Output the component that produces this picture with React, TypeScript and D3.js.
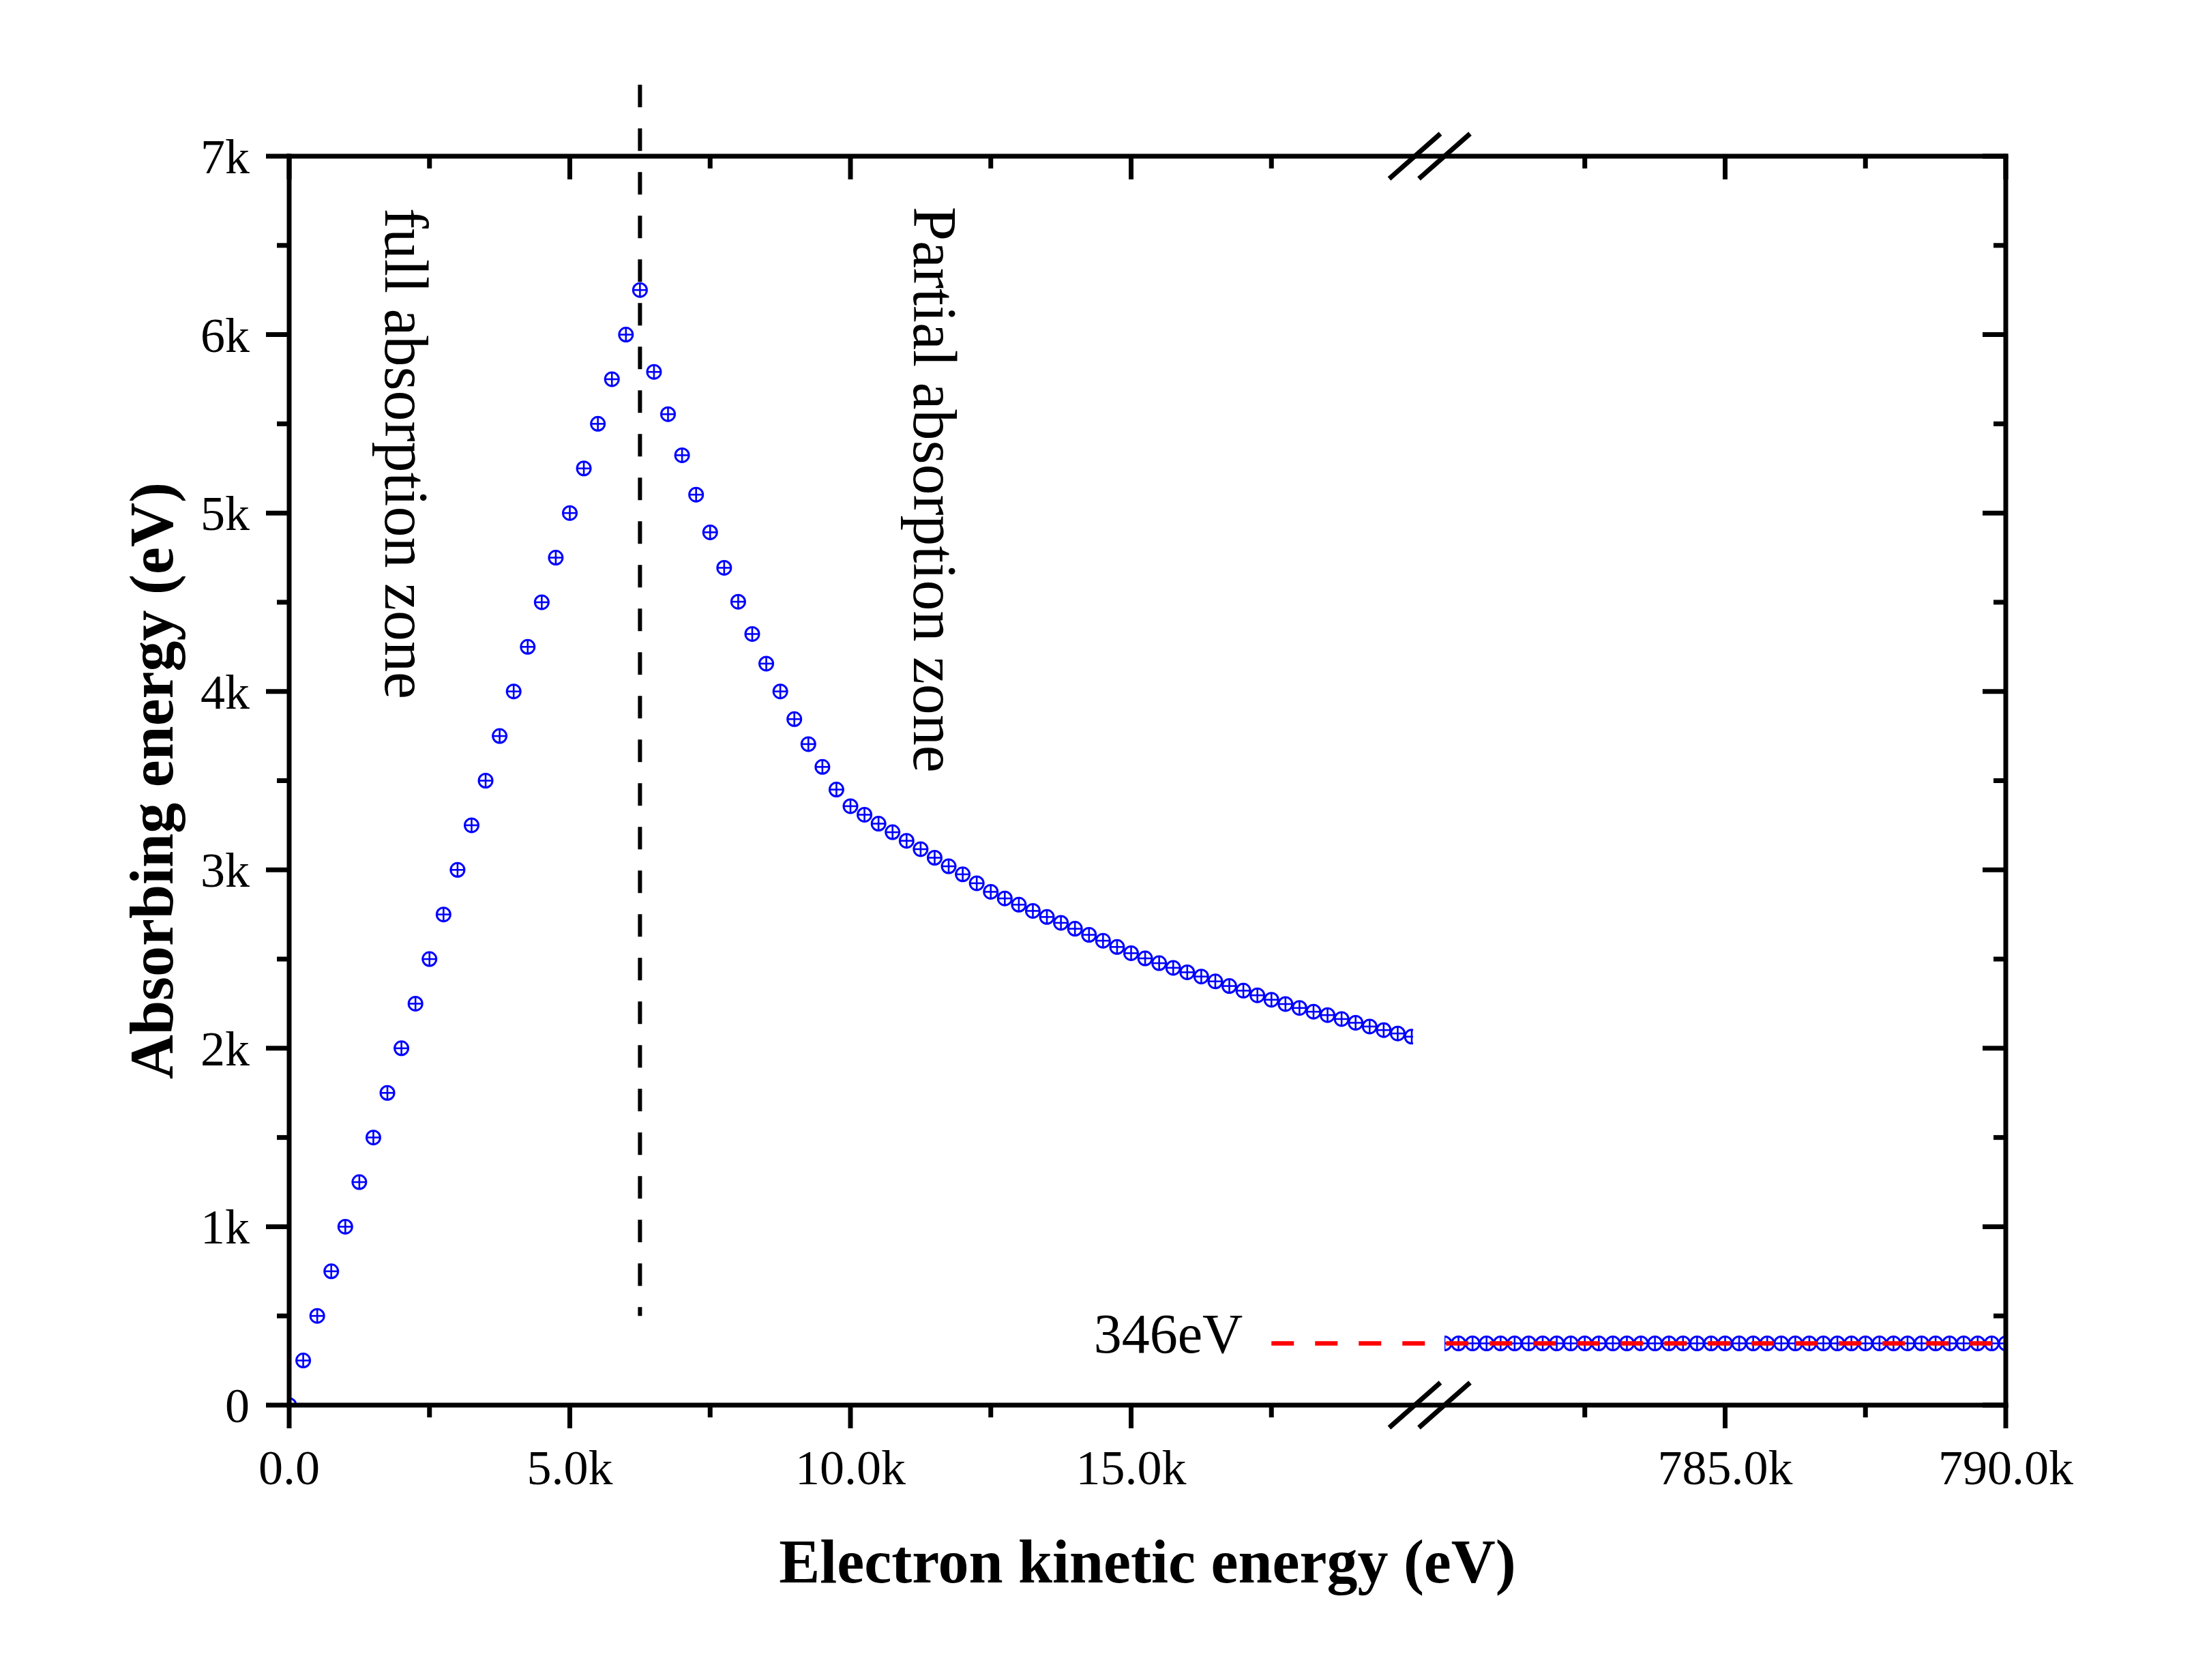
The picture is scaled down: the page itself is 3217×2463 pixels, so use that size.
import React from "react";
import * as d3 from "d3";

// ---------- data ----------
const leftEnergy = [
  0, 250, 500, 750, 1000, 1250, 1500, 1750, 2000, 2250, 2500, 2750, 3000, 3250, 3500, 3750,
  4000, 4250, 4500, 4750, 5000, 5250, 5500, 5750, 6000, 6250, 6500, 6750, 7000, 7250, 7500,
  7750, 8000, 8250, 8500, 8750, 9000, 9250, 9500, 9750, 10000, 10250, 10500, 10750, 11000,
  11250, 11500, 11750, 12000, 12250, 12500, 12750, 13000, 13250, 13500, 13750, 14000, 14250,
  14500, 14750, 15000, 15250, 15500, 15750, 16000, 16250, 16500, 16750, 17000, 17250, 17500,
  17750, 18000, 18250, 18500, 18750, 19000, 19250, 19500, 19750, 20000,
];
const leftAbsorbed = [
  0, 250, 500, 750, 1000, 1250, 1500, 1750, 2000, 2250, 2500, 2750, 3000, 3250, 3500, 3750,
  4000, 4250, 4500, 4750, 5000, 5250, 5500, 5750, 6000, 6250, 5791, 5554, 5324, 5103, 4892,
  4693, 4503, 4322, 4156, 4000, 3845, 3705, 3577, 3450, 3357, 3309, 3259, 3211, 3163,
  3116, 3068, 3020, 2975, 2925, 2877, 2840, 2805, 2770, 2736, 2703, 2670, 2636,
  2603, 2568, 2533, 2504, 2477, 2451, 2426, 2402, 2375, 2349, 2323, 2297, 2272,
  2248, 2226, 2205, 2186, 2164, 2143, 2122, 2102, 2083, 2065,
];
const rightEnergy = [
  780000, 780250, 780500, 780750, 781000, 781250, 781500, 781750, 782000, 782250, 782500,
  782750, 783000, 783250, 783500, 783750, 784000, 784250, 784500, 784750, 785000, 785250,
  785500, 785750, 786000, 786250, 786500, 786750, 787000, 787250, 787500, 787750, 788000,
  788250, 788500, 788750, 789000, 789250, 789500, 789750, 790000,
];
const rightAbsorbed = [
  346, 346, 346, 346, 346, 346, 346, 346, 346, 346, 346, 346, 346, 346, 346, 346, 346, 346,
  346, 346, 346, 346, 346, 346, 346, 346, 346, 346, 346, 346, 346, 346, 346, 346, 346, 346,
  346, 346, 346, 346, 346,
];

const leftMajorTicks = [0, 5000, 10000, 15000];
const leftMinorTicks = [2500, 7500, 12500, 17500];
const leftTickLabels = ["0.0", "5.0k", "10.0k", "15.0k"];
const rightMajorTicks = [785000, 790000];
const rightMinorTicks = [782500, 787500];
const rightTickLabels = ["785.0k", "790.0k"];
const yMajorTicks = [0, 1000, 2000, 3000, 4000, 5000, 6000, 7000];
const yMinorTicks = [500, 1500, 2500, 3500, 4500, 5500, 6500];
const yTickLabels = ["0", "1k", "2k", "3k", "4k", "5k", "6k", "7k"];

const thresholdEnergy = 6250;
const thresholdLine = [500, 7400];
const saturationValue = 346;
const saturationStart = 17500;
const saturationLabel = "346eV";

const xTitle = "Electron kinetic energy (eV)";
const yTitle = "Absorbing energy (eV)";
const fullZoneText = "full absorption zone";
const partialZoneText = "Partial absorption zone";

// ---------- layout ----------
const W = 3217;
const H = 2463;
const xL = d3.scaleLinear().domain([0, 20000]).range([424, 2070]);
const xR = d3.scaleLinear().domain([780000, 790000]).range([2118, 2941]);
const y = d3.scaleLinear().domain([0, 7000]).range([2060, 229]);

const LEFT = 424;
const RIGHT = 2941;
const TOP = y(7000);
const BOTTOM = y(0);
const AXW = 7;
const MAJ = 34;
const MIN = 18;
const FONT = "'Liberation Serif', 'Times New Roman', Times, serif";
const BLUE = "#0000ff";

function Marker({ cx, cy }: { cx: number; cy: number }) {
  const r = 10;
  return (
    <g>
      <circle cx={cx} cy={cy} r={r} fill="none" stroke={BLUE} strokeWidth={3} />
      <line x1={cx - r} x2={cx + r} y1={cy} y2={cy} stroke={BLUE} strokeWidth={2.6} />
      <line x1={cx} x2={cx} y1={cy - r} y2={cy + r} stroke={BLUE} strokeWidth={2.6} />
    </g>
  );
}

export default function App() {
  const breakL = xL.range()[1] + 4.5;
  const breakR = xR.range()[0];
  const slash = (cx: number, cy: number, k: string) => (
    <line
      key={k}
      x1={cx - 37.5}
      y1={cy + 33}
      x2={cx + 37.5}
      y2={cy - 33}
      stroke="#000"
      strokeWidth={AXW}
    />
  );

  const xTickGroup = (
    scale: d3.ScaleLinear<number, number>,
    major: number[],
    minor: number[],
    labels: string[],
    key: string
  ) => (
    <g key={key}>
      {major.map((v) => (
        <g key={"M" + v}>
          <line x1={scale(v)} x2={scale(v)} y1={BOTTOM} y2={BOTTOM + MAJ} stroke="#000" strokeWidth={AXW} />
          <line x1={scale(v)} x2={scale(v)} y1={TOP} y2={TOP + MAJ} stroke="#000" strokeWidth={AXW} />
        </g>
      ))}
      {minor.map((v) => (
        <g key={"m" + v}>
          <line x1={scale(v)} x2={scale(v)} y1={BOTTOM} y2={BOTTOM + MIN} stroke="#000" strokeWidth={AXW} />
          <line x1={scale(v)} x2={scale(v)} y1={TOP} y2={TOP + MIN} stroke="#000" strokeWidth={AXW} />
        </g>
      ))}
      {major.map((v, i) => (
        <text
          key={"t" + v}
          x={scale(v)}
          y={2176}
          textAnchor="middle"
          fontFamily={FONT}
          fontSize={72}
        >
          {labels[i]}
        </text>
      ))}
    </g>
  );

  return (
    <svg
      width={W}
      height={H}
      viewBox={`0 0 ${W} ${H}`}
      style={{ position: "absolute", left: 0, top: 0, background: "#fff" }}
    >
      <rect x={0} y={0} width={W} height={H} fill="#fff" />
      <defs>
        <clipPath id="clipL">
          <rect x={LEFT} y={TOP} width={xL.range()[1] + 2 - LEFT} height={BOTTOM - TOP} />
        </clipPath>
        <clipPath id="clipR">
          <rect x={xR.range()[0]} y={TOP} width={RIGHT - xR.range()[0]} height={BOTTOM - TOP} />
        </clipPath>
      </defs>

      {/* markers */}
      <g clipPath="url(#clipL)">
        {leftEnergy.map((e, i) => (
          <Marker key={"L" + e} cx={xL(e)} cy={y(leftAbsorbed[i])} />
        ))}
      </g>
      <g clipPath="url(#clipR)">
        {rightEnergy.map((e, i) => (
          <Marker key={"R" + e} cx={xR(e)} cy={y(rightAbsorbed[i])} />
        ))}
      </g>

      {/* threshold line */}
      <line
        x1={xL(thresholdEnergy)}
        x2={xL(thresholdEnergy)}
        y1={y(thresholdLine[1])}
        y2={y(thresholdLine[0])}
        stroke="#000"
        strokeWidth={6}
        strokeDasharray="33 31"
      />

      {/* saturation line */}
      <line
        x1={xL(saturationStart)}
        x2={xR(790000)}
        y1={y(saturationValue)}
        y2={y(saturationValue)}
        stroke="#ff0000"
        strokeWidth={6.5}
        strokeDasharray="33 31"
      />
      <text
        x={xL(saturationStart) - 42}
        y={y(saturationValue) + 14}
        textAnchor="end"
        fontFamily={FONT}
        fontSize={82}
      >
        {saturationLabel}
      </text>

      {/* zone labels */}
      <text
        transform={`translate(565,305) rotate(90)`}
        fontFamily={FONT}
        fontSize={90}
      >
        {fullZoneText}
      </text>
      <text
        transform={`translate(1340,303) rotate(90)`}
        fontFamily={FONT}
        fontSize={90}
      >
        {partialZoneText}
      </text>

      {/* frame */}
      <g stroke="#000" strokeWidth={AXW} strokeLinecap="square">
        <line x1={LEFT} x2={RIGHT} y1={TOP} y2={TOP} />
        <line x1={LEFT} x2={RIGHT} y1={BOTTOM} y2={BOTTOM} />
        <line x1={LEFT} x2={LEFT} y1={TOP} y2={BOTTOM} />
        <line x1={RIGHT} x2={RIGHT} y1={TOP} y2={BOTTOM} />
      </g>
      {slash(breakL, TOP, "s1")}
      {slash(breakR, TOP, "s2")}
      {slash(breakL, BOTTOM, "s3")}
      {slash(breakR, BOTTOM, "s4")}

      {/* x ticks */}
      {xTickGroup(xL, leftMajorTicks, leftMinorTicks, leftTickLabels, "xl")}
      {xTickGroup(xR, rightMajorTicks, rightMinorTicks, rightTickLabels, "xr")}

      {/* y ticks */}
      {yMajorTicks.map((v, i) => (
        <g key={"y" + v}>
          <line x1={LEFT - MAJ} x2={LEFT} y1={y(v)} y2={y(v)} stroke="#000" strokeWidth={AXW} />
          <line x1={RIGHT - MAJ} x2={RIGHT} y1={y(v)} y2={y(v)} stroke="#000" strokeWidth={AXW} />
          <text
            x={366}
            y={y(v) + 25}
            textAnchor="end"
            fontFamily={FONT}
            fontSize={72}
          >
            {yTickLabels[i]}
          </text>
        </g>
      ))}
      {yMinorTicks.map((v) => (
        <g key={"ym" + v}>
          <line x1={LEFT - MIN} x2={LEFT} y1={y(v)} y2={y(v)} stroke="#000" strokeWidth={AXW} />
          <line x1={RIGHT - MIN} x2={RIGHT} y1={y(v)} y2={y(v)} stroke="#000" strokeWidth={AXW} />
        </g>
      ))}

      {/* titles */}
      <text
        x={(LEFT + RIGHT) / 2}
        y={2320}
        textAnchor="middle"
        fontFamily={FONT}
        fontSize={90}
        fontWeight="bold"
      >
        {xTitle}
      </text>
      <text
        transform={`translate(253,${(TOP + BOTTOM) / 2}) rotate(-90)`}
        textAnchor="middle"
        fontFamily={FONT}
        fontSize={90}
        fontWeight="bold"
      >
        {yTitle}
      </text>
    </svg>
  );
}
